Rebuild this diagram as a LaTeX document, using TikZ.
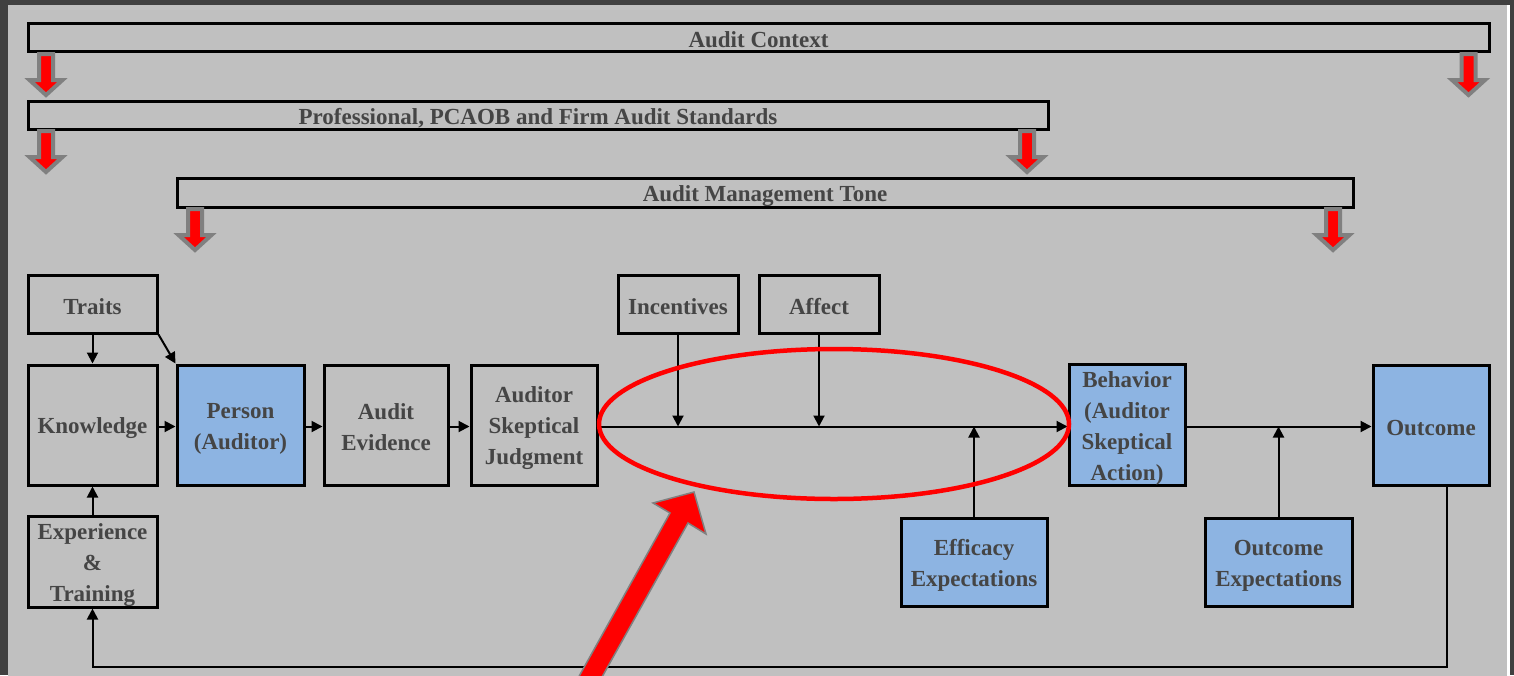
\documentclass[tikz,border=0pt]{standalone}
\usepackage{fontspec}
\setmainfont{Liberation Serif}
\usetikzlibrary{arrows.meta}
\definecolor{bgfill}{HTML}{C0C0C0}
\definecolor{frame}{HTML}{404040}
\definecolor{txt}{HTML}{454545}
\definecolor{bluefill}{HTML}{8DB4E2}
\definecolor{arrgray}{HTML}{808080}
\newcommand\mystrutx{\rule[-3pt]{0pt}{26pt}}
\newcommand\mystrutb{\rule[-4pt]{0pt}{27pt}}
\tikzset{
  box/.style={draw=black, line width=3pt, inner sep=0pt, align=center, text=txt,
    font=\fontsize{23}{31}\selectfont\bfseries},
  bluebox/.style={box, fill=bluefill},
  conn/.style={line width=2pt, -{Triangle[length=11pt,width=11pt]}},
  barrow/.style={fill=red, draw=arrgray, line width=4pt, line join=miter},
}
\newcommand\blockarr[2]{\draw[barrow] (#1-7,#2) -- (#1+7,#2) -- (#1+7,#2+26) -- (#1+16.5,#2+26) -- (#1,#2+41) -- (#1-16.5,#2+26) -- (#1-7,#2+26) -- cycle;}
\begin{document}
\begin{tikzpicture}[x=1pt,y=-1pt]
\useasboundingbox (0,0) rectangle (1514,675);
\clip (0,0) rectangle (1514,675);
\fill[frame] (0,0) rectangle (1514,675);
\fill[bgfill] (8,5) rectangle (1507,680);
\fill[white] (1507,5) rectangle (1510,680);
% top bands
\node[box, minimum width=1461pt, minimum height=28pt] (ctx) at (758.5,37.8) {\mystrutb Audit Context};
\node[box, minimum width=1020pt, minimum height=28pt] (prof) at (538,115) {\mystrutb Professional, PCAOB and Firm Audit Standards};
\node[box, minimum width=1176pt, minimum height=29pt] (tone) at (765,192.5) {\mystrutb Audit Management Tone};
% block arrows
\blockarr{46}{54}
\blockarr{1468.5}{54}
\blockarr{46}{131}
\blockarr{1027}{131}
\blockarr{195}{209}
\blockarr{1333}{209}
% boxes
\node[box, minimum width=129pt, minimum height=58pt] (traits) at (92.5,304) {\mystrutx Traits};
\node[box, minimum width=129pt, minimum height=120pt] (know) at (92.5,425) {\mystrutx Knowledge};
\node[box, minimum width=129pt, minimum height=88pt] (exp) at (92.5,562) {\mystrutx Experience\\\mystrutx\&\\\mystrutx Training};
\node[bluebox, minimum width=127pt, minimum height=120pt] (person) at (240.5,425) {\mystrutx Person\\\mystrutx(Auditor)};
\node[box, minimum width=124pt, minimum height=120pt] (evid) at (386,425) {\mystrutx Audit\\\mystrutx Evidence};
\node[box, minimum width=126pt, minimum height=120pt] (asj) at (534,425) {\mystrutx Auditor\\\mystrutx Skeptical\\\mystrutx Judgment};
\node[box, minimum width=120pt, minimum height=58pt] (inc) at (678,304) {\mystrutx Incentives};
\node[box, minimum width=120pt, minimum height=58pt] (aff) at (819,304) {\mystrutx Affect};
\node[bluebox, minimum width=116pt, minimum height=120pt] (beh) at (1127,425) {\mystrutx Behavior\\\mystrutx(Auditor\\\mystrutx Skeptical\\\mystrutx Action)};
\node[bluebox, minimum width=116pt, minimum height=120pt] (out) at (1431,425) {\mystrutx Outcome};
\node[bluebox, minimum width=146pt, minimum height=88pt] (eff) at (974,562) {\mystrutx Efficacy\\\mystrutx Expectations};
\node[bluebox, minimum width=147pt, minimum height=88pt] (oexp) at (1278.5,562) {\mystrutx Outcome\\\mystrutx Expectations};
% connectors
\draw[conn] (traits) -- (know);
\draw[conn] (traits.south east) -- (person.north west);
\draw[conn] (exp) -- (know);
\draw[conn] ([yshift=-1.5pt]know.east) -- ([yshift=-1.5pt]person.west);
\draw[conn] ([yshift=-1.5pt]person.east) -- ([yshift=-1.5pt]evid.west);
\draw[conn] ([yshift=-1.5pt]evid.east) -- ([yshift=-1.5pt]asj.west);
\coordinate (mainline) at ([yshift=-1.5pt]asj.east);
\draw[conn] (mainline) -- (mainline -| beh.west);
\draw[conn] (mainline -| beh.east) -- (mainline -| out.west);
\draw[conn] (inc) -- (inc |- mainline);
\draw[conn] (aff) -- (aff |- mainline);
\draw[conn] (eff) -- (eff |- mainline);
\draw[conn] (oexp) -- (oexp |- mainline);
\coordinate (fb) at (800,667);
\draw[conn] ([xshift=16pt]out.south) |- (fb) -| (exp.south);
% red ellipse
\draw[red, line width=4.5pt] (834,424) ellipse [x radius=235pt, y radius=75pt];
% big red arrow
\draw[fill=red, draw=arrgray, line width=1.5pt] (694,492) -- (706,534) -- (688,523) -- (578,720) -- (554.7,720) -- (670,513) -- (653,503) -- cycle;
\end{tikzpicture}
\end{document}
